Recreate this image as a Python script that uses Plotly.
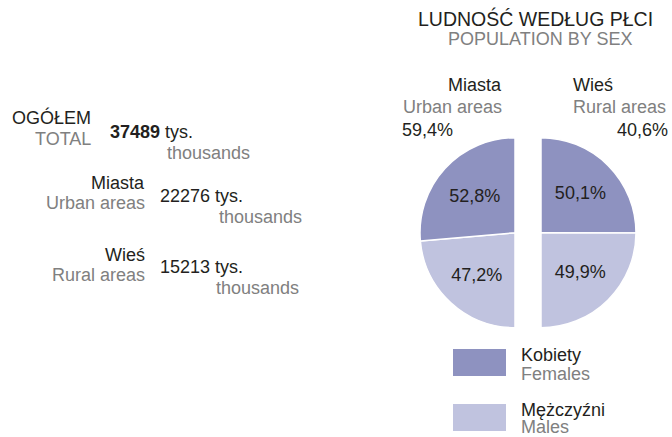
import plotly.graph_objects as go

# ---- data ----
sex_pl = ["Kobiety", "Mężczyźni"]
sex_en = ["Females", "Males"]
urban_share = [52.8, 47.2]   # % of urban population (females, males)
rural_share = [50.1, 49.9]   # % of rural population (females, males)
area_pl = ["Miasta", "Wieś"]
area_en = ["Urban areas", "Rural areas"]
area_share = [59.4, 40.6]    # % of total population
total_pop = 37489            # thousands
area_pop = [22276, 15213]    # thousands

W, H = 672, 437
C_F = "#8e92c0"
C_M = "#c0c3df"
DARK = "#231f20"
GREY = "#808080"
FONT = "Liberation Sans, Arial, sans-serif"
FS = 18


def px(x):
    return x / W


def py(y):
    return 1 - y / H


def pct(v):
    return f"{v:.1f}".replace(".", ",") + "%"


fig = go.Figure()

R = 95
cy = 232.7
# left half (urban): clockwise from 6 o'clock -> males then females, then hidden half
# right half (rural): clockwise from 12 o'clock -> females then males, then hidden half
halves = [
    ([urban_share[1], urban_share[0]], [C_M, C_F], 515, 180),
    ([rural_share[0], rural_share[1]], [C_F, C_M], 541, 0),
]
for shares, cols, cx, rot in halves:
    fig.add_trace(go.Pie(
        values=shares + [sum(shares)],
        text=[pct(v) for v in shares] + [""],
        textinfo="text",
        textposition="inside",
        insidetextorientation="horizontal",
        textfont=dict(family=FONT, size=FS, color=DARK),
        marker=dict(colors=cols + ["rgba(0,0,0,0)"],
                    line=dict(color="white", width=[1.5, 1.5, 0])),
        sort=False,
        direction="clockwise",
        rotation=rot,
        domain=dict(x=[px(cx - R), px(cx + R)], y=[py(cy + R), py(cy - R)]),
        showlegend=False,
        hoverinfo="none",
    ))

ann = []


def add(text, x, y, anchor="left", color=DARK, size=FS):
    ann.append(dict(text=text, x=px(x), y=py(y), xref="paper", yref="paper",
                    xanchor=anchor, yanchor="middle", showarrow=False,
                    font=dict(family=FONT, size=size, color=color)))


# left block
add("OGÓŁEM", 93, 117, "right")
add("TOTAL", 93, 139, "right", GREY)
add(f"<b>{total_pop}</b> tys.", 108, 132)
add("thousands", 165, 153, "left", GREY)

rows_y = [(183, 203, 196, 217), (255, 275, 267, 288)]
for i, (y1, y2, y3, y4) in enumerate(rows_y):
    add(area_pl[i], 147, y1, "right")
    add(area_en[i], 147, y2, "right", GREY)
    add(f"{area_pop[i]} tys.", 158, y3)
    add("thousands", 217 - 3 * i, y4, "left", GREY)

# title
add("LUDNOŚĆ WEDŁUG PŁCI", 535, 19, "center", DARK, 19.5)
add("POPULATION BY SEX", 540, 39, "center", GREY)

# area headers
add(area_pl[0], 475, 85, "center")
add(area_en[0], 452, 107, "center", GREY)
add(pct(area_share[0]), 400, 130, "left")
add(area_pl[1], 571, 85, "left")
add(area_en[1], 571, 107, "left", GREY)
add(pct(area_share[1]), 670, 130, "right")

# legend
shapes = []
for i, (c, y0) in enumerate([(C_F, 349), (C_M, 404)]):
    shapes.append(dict(type="rect", xref="paper", yref="paper",
                       x0=px(453), x1=px(506), y0=py(y0 + 27), y1=py(y0),
                       fillcolor=c, line=dict(width=0)))
    add(sex_pl[i], 519, y0 + 6, "left")
    add(sex_en[i], 519, y0 + 25 - 2 * i, "left", GREY)

fig.update_layout(
    width=W, height=H,
    margin=dict(l=0, r=0, t=0, b=0),
    paper_bgcolor="white", plot_bgcolor="white",
    annotations=ann, shapes=shapes,
)

fig.write_html("out.html",
               config={"displayModeBar": False},
               post_script="document.body.style.margin='0';document.body.style.overflow='hidden';")
